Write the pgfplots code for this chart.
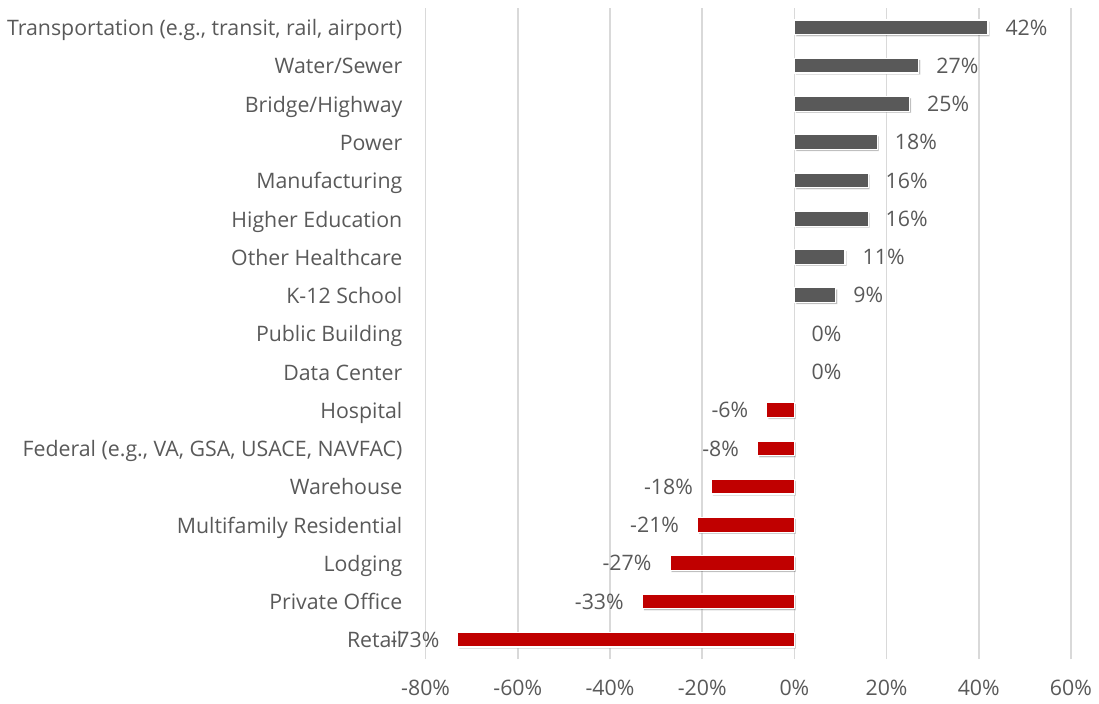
\documentclass[border=0pt]{standalone}
\usepackage{pgfplots}
\pgfplotsset{compat=1.18}
\usepackage{pgfplotstable}
\usepackage{fontspec}
\setmainfont{Open Sans}
\usetikzlibrary{shadows}
\definecolor{txt}{HTML}{595959}
\definecolor{barg}{HTML}{595959}
\definecolor{barr}{HTML}{C00000}
\definecolor{grd}{HTML}{D9D9D9}

\pgfplotstableread{
y  x   lab
9  9   9\%
10 11  11\%
11 16  16\%
12 16  16\%
13 18  18\%
14 25  25\%
15 27  27\%
16 42  42\%
}\pos
\pgfplotstableread{
y  x   lab
7  0   0\%
8  0   0\%
}\zero
\pgfplotstableread{
y  x    lab
0  -73  -73\%
1  -33  -33\%
2  -27  -27\%
3  -21  -21\%
4  -18  -18\%
5  -8   -8\%
6  -6   -6\%
}\neg

\begin{document}
\fontsize{10.8}{13}\selectfont
\begin{tikzpicture}
\begin{axis}[
  scale only axis,
  width=327pt, height=330pt,
  xmin=-80, xmax=60,
  ymin=-0.51, ymax=16.51,
  axis line style={draw=none},
  xtick={-80,-60,-40,-20,0,20,40,60},
  xticklabels={-80\%,-60\%,-40\%,-20\%,0\%,20\%,40\%,60\%},
  ytick={0,...,16},
  yticklabels={Retail,Private Office,Lodging,Multifamily Residential,Warehouse,{Federal (e.g., VA, GSA, USACE, NAVFAC)},Hospital,Data Center,Public Building,K-12 School,Other Healthcare,Higher Education,Manufacturing,Power,Bridge/Highway,Water/Sewer,{Transportation (e.g., transit, rail, airport)}},
  xmajorgrids=true,
  major grid style={grd, line width=0.8pt},
  major tick length=0pt,
  tick style={draw=none},
  yticklabel style={text=txt, font=\fontsize{10.8}{13}\selectfont, xshift=-8pt, yshift=-1.5pt, text height=0.75em, text depth=0.25em},
  xticklabel style={text=txt, font=\fontsize{10.8}{13}\selectfont, yshift=-7pt},
  xbar, bar width=7.5pt,
  bar shift=0pt,
  point meta=explicit symbolic,
  nodes near coords=\pgfplotspointmeta,
  every node near coord/.append style={text=txt, font=\fontsize{10.8}{13}\selectfont, text height=0.75em, text depth=0.25em, yshift=-1.2pt},
  clip=false,
]
\addplot[fill=barg, draw=white, line width=0.6pt,
  drop shadow={shadow xshift=0.8pt, shadow yshift=-0.8pt, fill=black, opacity=0.25},
  every node near coord/.append style={anchor=west, xshift=5pt}]
  table[x=x, y=y, meta=lab] {\pos};
\addplot[fill=none, draw=none,
  every node near coord/.append style={anchor=west, xshift=5pt}]
  table[x=x, y=y, meta=lab] {\zero};
\addplot[fill=barr, draw=white, line width=0.6pt,
  drop shadow={shadow xshift=0.8pt, shadow yshift=-0.8pt, fill=black, opacity=0.25},
  every node near coord/.append style={anchor=east, xshift=-5.5pt}]
  table[x=x, y=y, meta=lab] {\neg};
\end{axis}
\path ([yshift=4pt]current axis.north);
\end{tikzpicture}
\end{document}
